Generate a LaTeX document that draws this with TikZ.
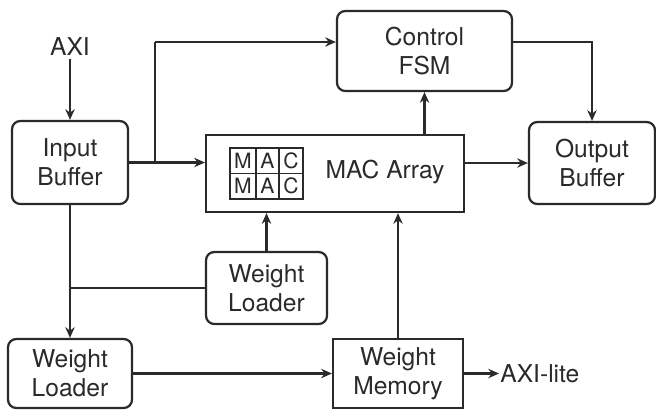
\documentclass[tikz,border=0pt]{standalone}
\usepackage{fontspec}
\setmainfont{TeX Gyre Heros}
\usetikzlibrary{arrows.meta,positioning,calc}

\definecolor{ink}{HTML}{2A2A2A}

\tikzset{
  blk/.style={draw=ink,line width=1.9pt,align=center,inner sep=0pt,text=ink},
  rblk/.style={blk,rounded corners=0.25cm},
  lbl/.style={text=ink,inner sep=2pt},
  flow/.style={draw=ink,line width=1.9pt,-{Stealth[length=0.32cm,width=0.28cm]}},
  link/.style={draw=ink,line width=1.9pt},
  cell/.style={text=ink,inner sep=0pt,font=\fontsize{18}{18}\selectfont}
}

\begin{document}
\begin{tikzpicture}[x=0.03cm,y=-0.03cm,font=\fontsize{21}{25}\selectfont]
  \useasboundingbox (0,0) rectangle (656,409);

  % blocks
  \node[rblk,minimum width=3.48cm,minimum height=2.49cm] (ib) at (70,162.5) {Input\\Buffer};
  \node[rblk,minimum width=5.25cm,minimum height=2.4cm] (ctl) at (424.5,51) {Control\\FSM};
  \node[rblk,minimum width=3.78cm,minimum height=2.46cm] (ob) at (592,163) {Output\\Buffer};
  \node[blk,minimum width=7.74cm,minimum height=2.31cm] (mac) at (335,173.5) {};
  \node[rblk,minimum width=3.63cm,minimum height=2.16cm] (wla) at (266.5,288) {Weight\\Loader};
  \node[rblk,minimum width=3.72cm,minimum height=2.07cm] (wlb) at (70,373.5) {Weight\\Loader};
  \node[blk,minimum width=3.9cm,minimum height=2.07cm] (wm) at (398,373.5) {Weight\\Memory};

  % MAC grid inside the array
  \draw[ink,line width=1.6pt] (230,148) rectangle (303,199);
  \draw[ink,line width=1.2pt] (230,173.5) -- (303,173.5)
    (256,148) -- (256,199) (279,148) -- (279,199);
  \foreach \y in {161,186} {
    \node[cell] (m\y) at (243,\y) {M};
    \node[cell] (a\y) at (267.5,\y) {A};
    \node[cell] (c\y) at (291,\y) {C};
  }
  \node[lbl] (mact) at (385,172) {MAC Array};

  % bus labels
  \node[lbl] (axi) at (70,47) {AXI};
  \node[lbl,anchor=west,inner sep=1pt] (axil) at (499,373.5) {AXI-lite};

  \coordinate (up) at (155,42);

  % connectors
  \draw[flow] (axi) -- (ib);
  \draw[flow] (ib.east) -- (mac.west |- ib.east);
  \draw[link] (up |- ib.east) -- (up);
  \draw[flow] (up) -- (up -| ctl.west);
  \draw[flow] (ctl.east |- up) -| (ob.north);
  \draw[flow] (ctl.south |- mac.north) -- (ctl.south);
  \draw[flow] (mac.east |- ob.west) -- (ob.west);
  \draw[flow] (ib.south) -- (wlb.north);
  \draw[link] (wla.west) -- (wla.west -| ib.south);
  \draw[flow] (wla.north) -- (wla.north |- mac.south);
  \draw[flow] (wlb.east |- wm.west) -- (wm.west);
  \draw[flow] (wm.north) -- (wm.north |- mac.south);
  \draw[flow] (wm.east) -- (axil.west);
\end{tikzpicture}
\end{document}
